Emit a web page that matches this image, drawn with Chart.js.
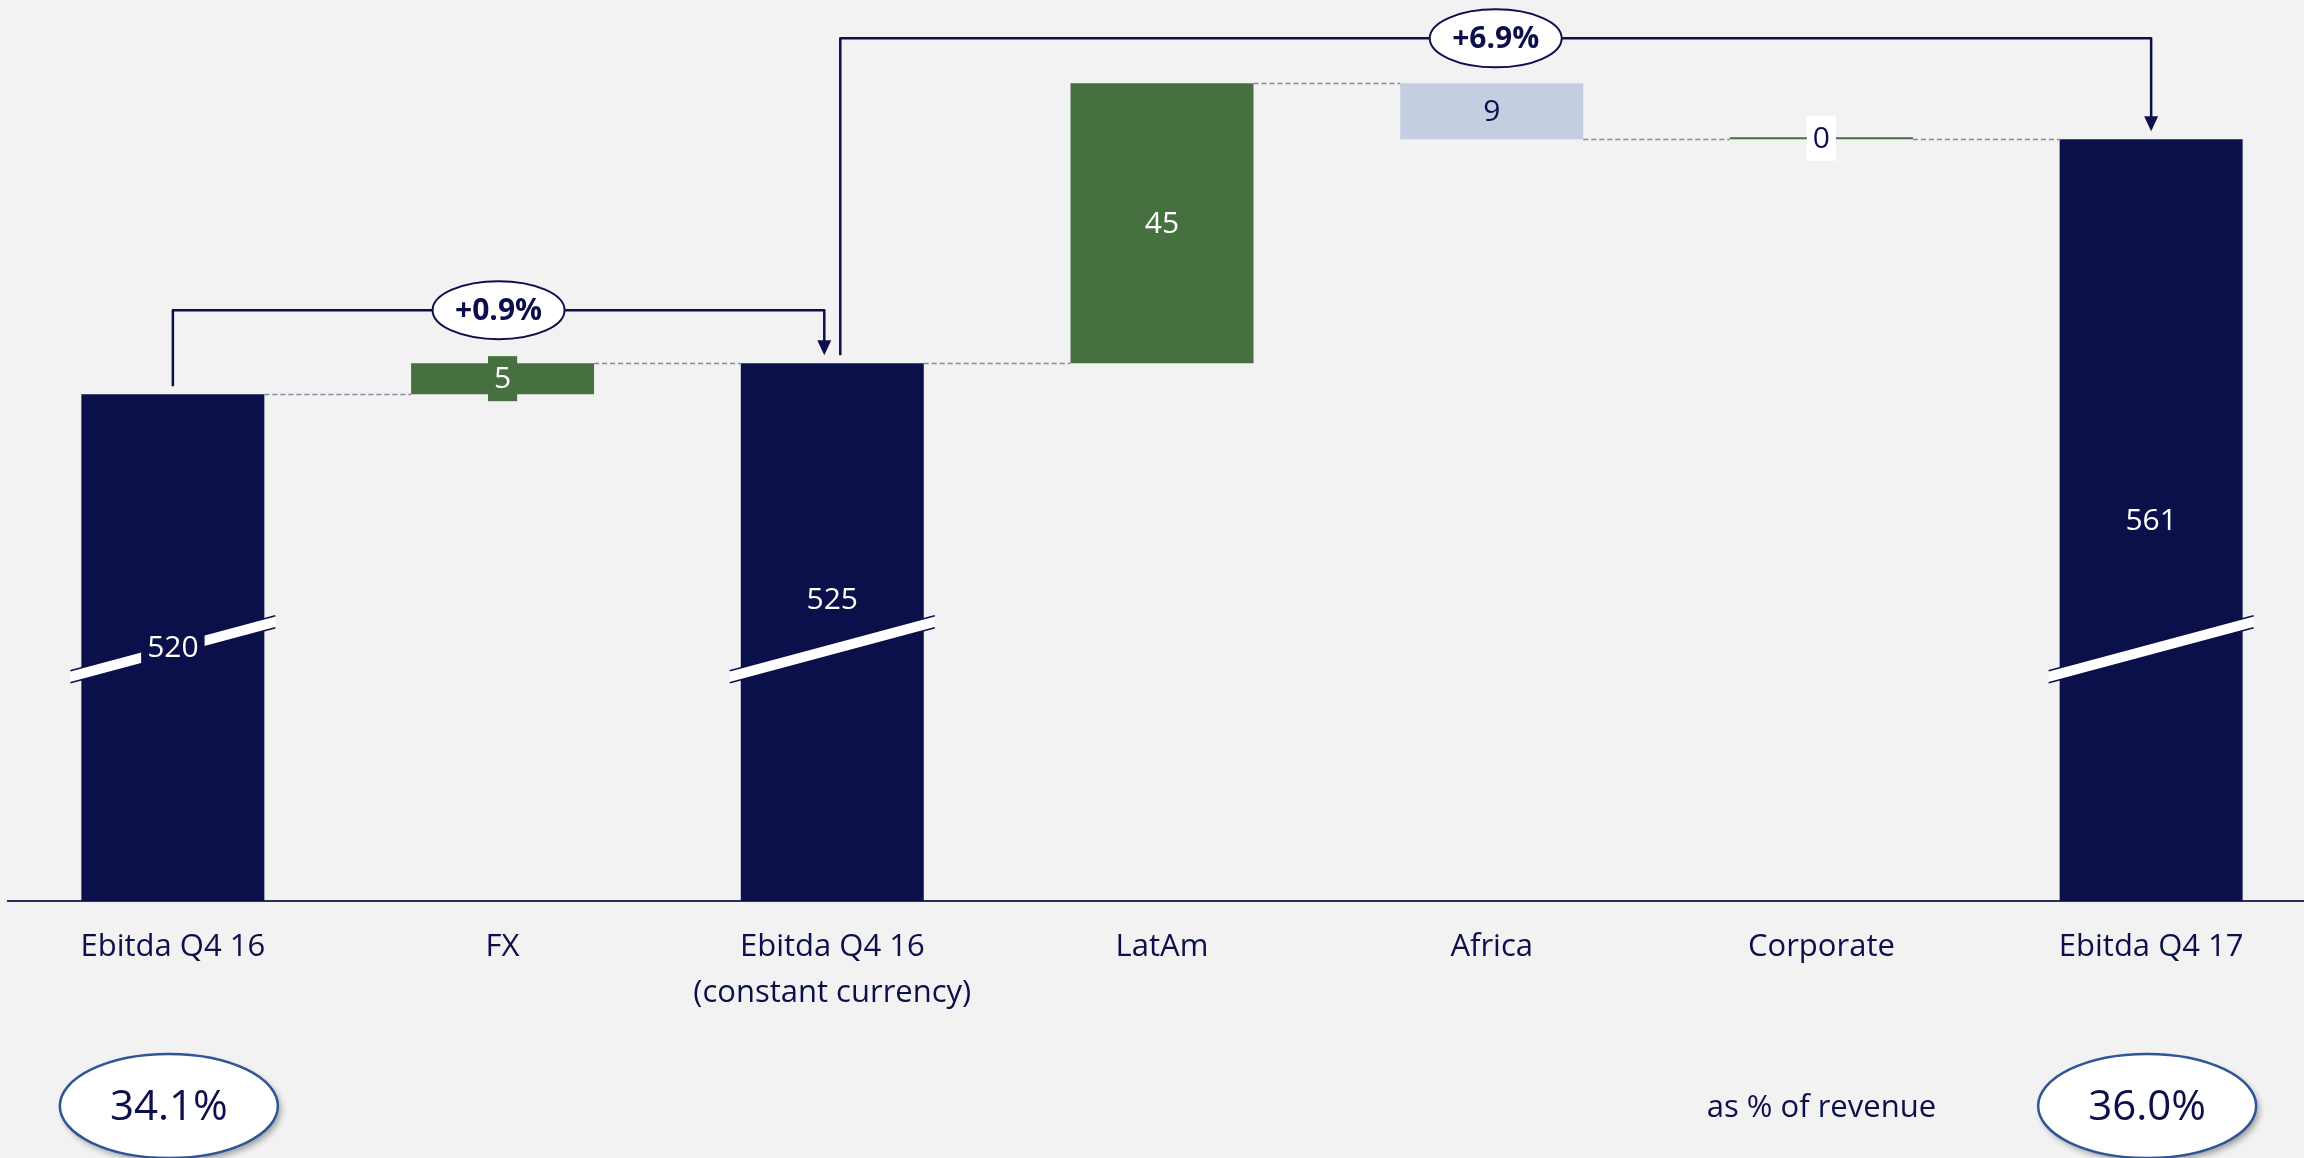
<!DOCTYPE html>
<html>
<head>
<meta charset="utf-8">
<script src="https://cdn.jsdelivr.net/npm/chart.js@4.4.1/dist/chart.umd.min.js"></script>
<style>
  html, body { margin: 0; padding: 0; background: #f2f2f2; overflow: hidden; }
  #wrap { width: 2316px; height: 1158px; position: relative; }
</style>
</head>
<body>
<div id="wrap"><canvas id="chart"></canvas></div>
<script>
// data
const categories = [
  ['Ebitda Q4 16'],
  ['FX'],
  ['Ebitda Q4 16', '(constant currency)'],
  ['LatAm'],
  ['Africa'],
  ['Corporate'],
  ['Ebitda Q4 17']
]
const values = [520, 5, 525, 45, -9, 0, 561]
const isTotal = [true, false, true, false, false, false, true]
const marginLabels = ['34.1%', null, null, null, null, null, '36.0%']
const marginCaption = 'as % of revenue'
const growthSpans = [[0, 2], [2, 6]]
const growthLabels = ['+0.9%', '+6.9%']
const axisMin = 438.5
const axisMax = 583.4
const breakValue = 479

const NAVY = '#0b104a'
const GREEN = '#477040'
const PALE = '#c3cfe0'
const FONT = '"Open Sans", "DejaVu Sans", sans-serif'

// build floating bars and running levels
const barData = []
const levels = []
const colors = []
let running = 0
values.forEach((v, i) => {
  if (isTotal[i]) {
    barData.push(v)
    running = v
    colors.push(NAVY)
  } else {
    barData.push([running, running + v])
    running += v
    colors.push(v < 0 ? PALE : GREEN)
  }
  levels.push(running)
})

const waterfallPlugin = {
  id: 'waterfall',
  afterDatasetsDraw(chart) {
    const ctx = chart.ctx
    const bars = chart.getDatasetMeta(0).data
    const yScale = chart.scales.y
    const area = chart.chartArea
    const top = (b) => Math.min(b.y, b.base)
    const bottom = (b) => Math.min(Math.max(b.y, b.base), area.bottom)

    // dashed connectors
    ctx.save()
    ctx.setLineDash([5, 3])
    ctx.strokeStyle = '#8586a6'
    ctx.lineWidth = 1.5
    for (let i = 0; i < bars.length - 1; i++) {
      const py = Math.round(yScale.getPixelForValue(levels[i])) + 0.5
      ctx.beginPath()
      ctx.moveTo(bars[i].x + bars[i].width / 2, py)
      ctx.lineTo(bars[i + 1].x - bars[i + 1].width / 2, py)
      ctx.stroke()
    }
    ctx.restore()

    // axis break bands on the total bars
    const yb = yScale.getPixelForValue(breakValue)
    bars.forEach((b, i) => {
      if (!isTotal[i]) return
      const hw = b.width / 2 + 11
      const rise = 27.5
      const t = 6
      ctx.save()
      ctx.beginPath()
      ctx.moveTo(b.x - hw, yb + rise - t)
      ctx.lineTo(b.x + hw, yb - rise - t)
      ctx.lineTo(b.x + hw, yb - rise + t)
      ctx.lineTo(b.x - hw, yb + rise + t)
      ctx.closePath()
      ctx.fillStyle = '#ffffff'
      ctx.fill()
      ctx.strokeStyle = NAVY
      ctx.lineWidth = 1.5
      ctx.beginPath()
      ctx.moveTo(b.x - hw, yb + rise - t)
      ctx.lineTo(b.x + hw, yb - rise - t)
      ctx.moveTo(b.x - hw, yb + rise + t)
      ctx.lineTo(b.x + hw, yb - rise + t)
      ctx.stroke()
      ctx.restore()
    })

    // value labels
    ctx.save()
    ctx.font = '30px ' + FONT
    ctx.textAlign = 'center'
    ctx.textBaseline = 'middle'
    bars.forEach((b, i) => {
      const text = String(Math.abs(values[i]))
      let cy = (top(b) + bottom(b)) / 2
      if (i === 2) cy -= 33
      const tw = ctx.measureText(text).width
      if (isTotal[i]) {
        ctx.fillStyle = NAVY
        ctx.fillRect(b.x - tw / 2 - 6, cy - 18, tw + 12, 36)
        ctx.fillStyle = '#ffffff'
      } else {
        const h = bottom(b) - top(b)
        if (h < 45) {
          ctx.fillStyle = values[i] === 0 ? '#ffffff' : colors[i]
          ctx.fillRect(b.x - tw / 2 - 6, cy - 22.5, tw + 12, 45)
        }
        ctx.fillStyle = colors[i] === GREEN && values[i] !== 0 ? '#ffffff' : NAVY
      }
      ctx.fillText(text, b.x, cy + 1)
    })
    ctx.restore()

    // growth brackets
    const brackets = [
      { rise: 53, dxStart: 0, dxEnd: -8 },
      { rise: 45, dxStart: 8, dxEnd: 0 }
    ]
    growthSpans.forEach(([from, to], k) => {
      const st = brackets[k]
      const x1 = bars[from].x + st.dxStart
      const x2 = bars[to].x + st.dxEnd
      const y1 = top(bars[from]) - 8
      const tip = top(bars[to]) - 8
      let minTop = Infinity
      for (let i = from; i <= to; i++) minTop = Math.min(minTop, top(bars[i]))
      const hy = minTop - st.rise
      ctx.save()
      ctx.strokeStyle = NAVY
      ctx.fillStyle = NAVY
      ctx.lineWidth = 2.5
      ctx.lineJoin = 'round'
      ctx.beginPath()
      ctx.moveTo(x1, y1)
      ctx.lineTo(x1, hy)
      ctx.lineTo(x2, hy)
      ctx.lineTo(x2, tip - 12)
      ctx.stroke()
      ctx.beginPath()
      ctx.moveTo(x2 - 7, tip - 15)
      ctx.lineTo(x2 + 7, tip - 15)
      ctx.lineTo(x2, tip)
      ctx.closePath()
      ctx.fill()
      const cx = (x1 + x2) / 2
      ctx.beginPath()
      ctx.ellipse(cx, hy, 66, 29, 0, 0, Math.PI * 2)
      ctx.fillStyle = '#ffffff'
      ctx.fill()
      ctx.lineWidth = 2
      ctx.stroke()
      ctx.fillStyle = NAVY
      ctx.font = 'bold 30px ' + FONT
      ctx.textAlign = 'center'
      ctx.textBaseline = 'middle'
      ctx.fillText(growthLabels[k], cx, hy + 1)
      ctx.restore()
    })
  },
  afterDraw(chart) {
    const ctx = chart.ctx
    const xScale = chart.scales.x
    const cy = chart.height - 52
    ctx.save()
    marginLabels.forEach((m, i) => {
      if (!m) return
      const cx = xScale.getPixelForValue(i) - 4
      ctx.save()
      ctx.shadowColor = 'rgba(0,0,0,0.35)'
      ctx.shadowBlur = 6
      ctx.shadowOffsetX = 3
      ctx.shadowOffsetY = 4
      ctx.beginPath()
      ctx.ellipse(cx, cy, 109, 52, 0, 0, Math.PI * 2)
      ctx.fillStyle = '#ffffff'
      ctx.fill()
      ctx.restore()
      ctx.beginPath()
      ctx.ellipse(cx, cy, 109, 52, 0, 0, Math.PI * 2)
      ctx.strokeStyle = '#2f5597'
      ctx.lineWidth = 2.5
      ctx.stroke()
      ctx.fillStyle = NAVY
      ctx.font = '42px ' + FONT
      ctx.textAlign = 'center'
      ctx.textBaseline = 'middle'
      ctx.fillText(m, cx, cy + 2)
    })
    ctx.fillStyle = NAVY
    ctx.font = '31px ' + FONT
    ctx.textAlign = 'center'
    ctx.textBaseline = 'middle'
    ctx.fillText(marginCaption, xScale.getPixelForValue(5), cy + 2)
    ctx.restore()
  }
}

new Chart(document.getElementById('chart'), {
  type: 'bar',
  data: {
    labels: categories,
    datasets: [{
      data: barData,
      backgroundColor: colors,
      borderWidth: 0,
      minBarLength: 2,
      categoryPercentage: 1,
      barPercentage: 0.555
    }]
  },
  options: {
    responsive: true,
    maintainAspectRatio: false,
    animation: false,
    layout: { padding: { left: 8, right: 0, top: 0, bottom: 0 } },
    plugins: {
      legend: { display: false },
      tooltip: { enabled: false }
    },
    scales: {
      x: {
        grid: { display: false, drawTicks: false },
        border: { display: true, color: '#2c3058', width: 2 },
        ticks: {
          color: NAVY,
          padding: 23,
          font: { family: FONT, size: 31, lineHeight: 1.48 }
        },
        afterFit: (scale) => { scale.height = 257 }
      },
      y: {
        display: false,
        min: axisMin,
        max: axisMax
      }
    }
  },
  plugins: [waterfallPlugin]
})
</script>
</body>
</html>
